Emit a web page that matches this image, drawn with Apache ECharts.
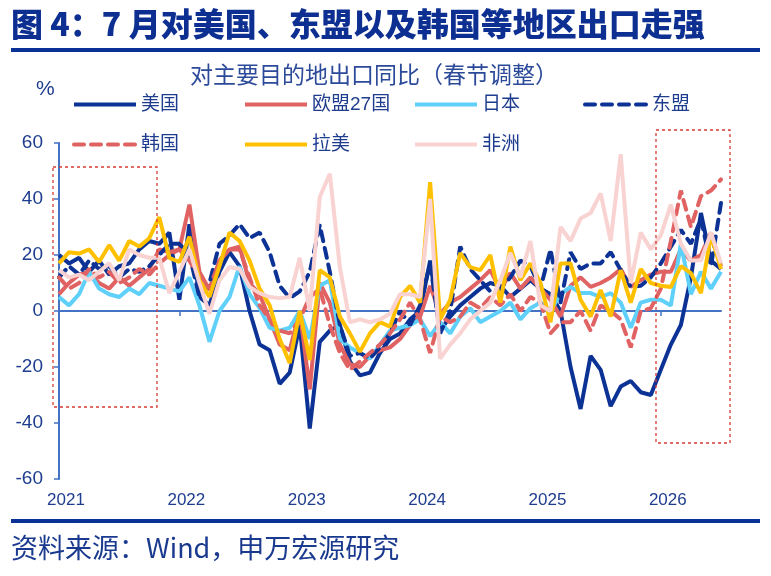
<!DOCTYPE html>
<html>
<head>
<meta charset="utf-8">
<script src="https://cdn.jsdelivr.net/npm/echarts@6/dist/echarts.min.js"></script>
<style>
  html, body { margin: 0; padding: 0; background: #fff; }
  #chart { width: 771px; height: 576px; }
</style>
</head>
<body>
<div id="chart"></div>
<script>
// 年份标签，月度数据 2021-01 ~ 2026-07
const years = ['2021', '2022', '2023', '2024', '2025', '2026'];
const lastMonth = 7;
const months = [];
years.forEach(function (y, k) {
  const n = k === years.length - 1 ? lastMonth : 12;
  for (let m = 1; m <= n; m++) months.push(y + '-' + (m < 10 ? '0' + m : m));
});

const seriesNames = ['美国', '欧盟27国', '日本', '东盟', '韩国', '拉美', '非洲'];

const usa = [
  20, 17, 19, 14, 18, 13, 16, 17, 22, 25, 24, 28,
  4, 31, 5, 2, 14, 21, 16, 0, -12, -14, -26, -22,
  -5, -42, -11, -7, -5, -18, -23, -22, -15, -10, -8, -3,
  0, 18, -7, -2, 2, 5, 8, 10, 9, 5, 8, 11,
  8, 6, 0, -20, -35, -16, -21, -34, -27, -25, -29, -30,
  -21, -12, -5, 12, 35, 18, 15
];
const eu27 = [
  6, 10, 13, 14, 10, 8, 12, 9, 12, 15, 22, 21,
  22, 38, 14, 7.5, 18, 22, 23, 10, 6, -3, -12, -14,
  0, -28, 10, 3, -12, -19, -20, -16, -14, -13, -10, -5,
  -2, 9, -1, 3, 5, 8, 11, 14.6, 7.5, 13.6, 8, 12,
  8, 4, -2, 9, 12, 8.6, 10, 12, 15, 8.6, 11, 13,
  14, 14, 22, 18, 20, 28, 16
];
const japan = [
  5, 2, 6, 14, 8, 6, 5, 8, 6, 10, 9, 8,
  7, 12, 2, -11, 0, 5, 16, 6, 1, -6, -7, -6,
  0, -10, 9, 11, -10, -13, -15, -17, -12, -7, -6, -5,
  -3, -9, -4, -8, -2, 1, -4, -2, 0, 3, -3, 1,
  3, 0, 6, 8.6, 6.4, 6.4, 5, 6.4, 3, -6, 3, 4,
  4, 2, 24, 6, 14, 8, 14
];
const asean = [
  12, 16, 13, 18, 15, 16, 12, 15, 14, 16, 20, 24,
  24, 20, 5, 10, 24, 27, 31, 26, 28, 21, 9, 4.6,
  7, 14, 30.7, 14, -5, -16, -15, -17, -13, -8, 0, -5,
  2, 17, -8, 0, 23, 15, 11, 7, 8, 12, 18, 16,
  8, 22, 3, 21, 15, 17, 17, 21, 14.6, 8.6, 9, 12,
  17, 23, 29, 24, 33, 16, 38.6
];
const korea = [
  12, 8, 10, 15, 12, 14, 10, 12, 15, 13, 17, 20,
  22, 18, 12, 8, 18, 22, 22, 12, 2, -3, -7, -8,
  -3, 5, 8, -5, -15, -21, -18, -15, -12, -8, -3, 3,
  -3, -15, -2, -4, -2, 3, 1, 5, 2, 6, 0, 5,
  3, -8, -4, -4, 0, -7, 2, 0, -3, -13, 0, 1,
  8, 25, 43, 30, 41, 43, 47
];
const latam = [
  17, 21, 20.5, 22, 17.5, 23.5, 18, 25, 23, 26, 33.5, 19,
  17.5, 26.5, 11, 5, 16, 28, 25, 18, 8, 2, -10, -18.6,
  0, -17.5, 14.6, 12, -2, -8, -14.6, -8, -4, -5.6, 5, 9,
  3, 46, -3, 4, 20.7, 15.7, 14.6, 20, 3, 23, 11, 17,
  10, -4, 17, 17, 4, -2, 7.5, -2, 14.6, 3, 15, 10,
  9, 8.6, 16, 13.5, 6.4, 27, 15
];
const africa = [
  14.6, 12, 13, 11, 14, 17, 11, 22, 20, 19, 19, 6.4,
  14, 22, 10, -1, 11, 15.7, 15, 8.6, 6.4, 5, 4.6, 5,
  19, 0, 40.7, 49, 15.7, -4, -3, -4, -3, -1, 6, 6,
  5, 40, -17, -12, -8, -3, 0, 3, 11, 20.7, 12, 25,
  2, 0, 30, 25, 33, 35, 42, 25, 56, 10, 28, 22,
  27, 38, 24, 18, 18, 28, 17
];

const yTicks = { min: -60, max: 60, interval: 20 };

const FONT = '"Liberation Sans", "Noto Sans CJK SC", sans-serif';
const navy = '#0B3294';
const axisBlue = '#4472C4';
const textBlue = '#1F3D8F';
const red = '#E06262';

function line(name, data, color, dashed) {
  return {
    name: name,
    type: 'line',
    data: data,
    symbol: 'none',
    smooth: false,
    lineStyle: {
      color: color,
      width: 4,
      type: dashed ? [10, 7] : 'solid',
      cap: dashed ? 'round' : 'butt'
    },
    itemStyle: { color: color },
    emphasis: { disabled: true }
  };
}

const legendPos = [[72, 95], [243, 95], [413, 95], [583, 95], [72, 135], [243, 135], [413, 135]];

const chart = echarts.init(document.getElementById('chart'));
const option = {
  backgroundColor: '#fff',
  animation: false,
  textStyle: { fontFamily: FONT },
  grid: { left: 59, right: 50, top: 143, bottom: 97, containLabel: false },
  legend: seriesNames.map(function (n, i) {
    return {
      data: [n],
      left: legendPos[i][0],
      top: legendPos[i][1],
      padding: 0,
      itemWidth: 62,
      itemHeight: 14,
      itemGap: 0,
      selectedMode: false,
      itemStyle: { opacity: 0 },
      lineStyle: { width: 4 },
      textStyle: { fontSize: 19, color: textBlue, fontFamily: FONT, padding: [0, 0, 0, 0] }
    };
  }),
  xAxis: [
    {
      type: 'category',
      data: months,
      boundaryGap: false,
      axisLine: { onZero: true, lineStyle: { color: axisBlue, width: 2 } },
      axisTick: {
        show: true,
        length: 5,
        lineStyle: { color: axisBlue, width: 1.5 },
        interval: function (i) { return i % 12 === 0; }
      },
      axisLabel: { show: false },
      splitLine: { show: false }
    },
    {
      type: 'category',
      data: months,
      boundaryGap: false,
      position: 'bottom',
      axisLine: { show: false, onZero: false },
      axisTick: { show: false },
      axisLabel: {
        interval: function (i) { return i % 12 === 0; },
        formatter: function (v) { return v.slice(0, 4); },
        color: textBlue,
        fontSize: 17,
        margin: 13,
        padding: [0, 0, 0, 14],
        fontFamily: FONT
      },
      splitLine: { show: false }
    }
  ],
  yAxis: {
    type: 'value',
    min: yTicks.min,
    max: yTicks.max,
    interval: yTicks.interval,
    axisLine: { show: true, lineStyle: { color: axisBlue, width: 2 } },
    axisTick: { show: true, length: 5, lineStyle: { color: axisBlue, width: 1.5 } },
    axisLabel: { color: textBlue, fontSize: 19, margin: 16, fontFamily: FONT },
    splitLine: { show: false }
  },
  series: [
    line('美国', usa, navy, false),
    line('欧盟27国', eu27, red, false),
    line('日本', japan, '#5ED0FA', false),
    line('东盟', asean, navy, true),
    line('韩国', korea, red, true),
    line('拉美', latam, '#FFC000', false),
    line('非洲', africa, '#F9D2D2', false)
  ],
  graphic: [
    // 标题
    { type: 'text', left: 11, top: 8, style: { text: '图 4：7 月对美国、东盟以及韩国等地区出口走强', font: '900 32px "Noto Sans CJK SC", sans-serif', fill: '#0D2F91' } },
    { type: 'rect', shape: { x: 11, y: 48, width: 749, height: 4 }, style: { fill: '#0A3296' } },
    // 副标题
    { type: 'text', left: 190, top: 63, style: { text: '对主要目的地出口同比（春节调整）', font: '23px "Noto Sans CJK SC", sans-serif', fill: '#2C4A9A' } },
    { type: 'text', left: 36, top: 79, style: { text: '%', font: '21px "Liberation Sans", sans-serif', fill: textBlue } },
    // 红色虚线框
    { type: 'rect', shape: { x: 53, y: 167, width: 104, height: 240 }, style: { fill: 'none', stroke: '#D93A32', lineWidth: 1.3, lineDash: [3, 3] }, z: 10 },
    { type: 'rect', shape: { x: 656, y: 130, width: 74, height: 313 }, style: { fill: 'none', stroke: '#D93A32', lineWidth: 1.3, lineDash: [3, 3] }, z: 10 },
    // 底部
    { type: 'rect', shape: { x: 11, y: 519, width: 749, height: 4 }, style: { fill: '#0A3296' } },
    { type: 'text', left: 11, top: 534, style: { text: '资料来源：Wind，申万宏源研究', font: '27px "Noto Sans CJK SC", sans-serif', fill: '#1A3A8F' } }
  ]
};
chart.setOption(option);
</script>
</body>
</html>
